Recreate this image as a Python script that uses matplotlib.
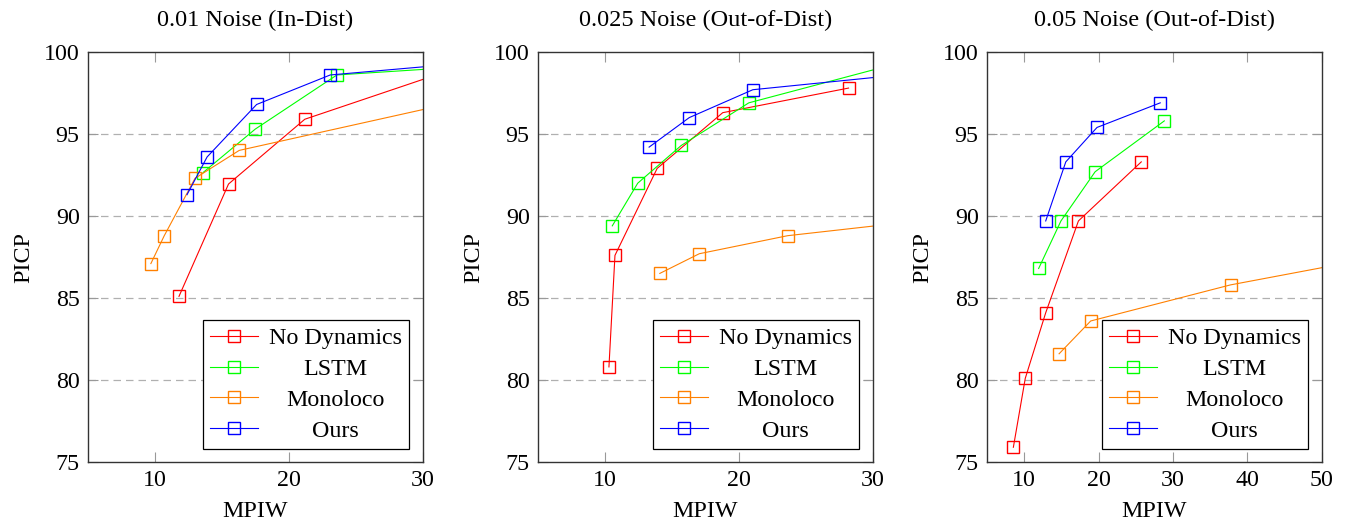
import numpy as np
import matplotlib
matplotlib.use("Agg")
import matplotlib.pyplot as plt

plt.rcParams['font.family'] = ['Liberation Serif', 'DejaVu Serif']

# Datos (MPIW, PICP) por panel y método
titulos = ["0.01 Noise (In-Dist)", "0.025 Noise (Out-of-Dist)", "0.05 Noise (Out-of-Dist)"]
metodos = ["No Dynamics", "LSTM", "Monoloco", "Ours"]
colores = ["#ff0000", "#00ff00", "#ff8000", "#0000ff"]

# Panel 1: 0.01 Noise
p1_nodyn_x = [11.8, 15.5, 21.2, 35.0]
p1_nodyn_y = [85.1, 91.95, 95.9, 99.7]
p1_lstm_x = [13.6, 17.5, 23.6, 35.0]
p1_lstm_y = [92.65, 95.3, 98.6, 99.2]
p1_mono_x = [9.7, 10.7, 13.0, 16.3, 40.0]
p1_mono_y = [87.1, 88.8, 92.3, 94.0, 98.3]
p1_ours_x = [12.4, 13.9, 17.6, 23.1, 35.0]
p1_ours_y = [91.3, 93.6, 96.8, 98.6, 99.45]

# Panel 2: 0.025 Noise
p2_nodyn_x = [10.3, 10.75, 13.9, 18.8, 28.2]
p2_nodyn_y = [80.8, 87.6, 92.9, 96.3, 97.8]
p2_lstm_x = [10.55, 12.45, 15.7, 20.75, 33.0]
p2_lstm_y = [89.4, 92.0, 94.3, 96.9, 99.55]
p2_mono_x = [14.1, 17.05, 23.65, 40.0]
p2_mono_y = [86.5, 87.7, 88.8, 90.3]
p2_ours_x = [13.3, 16.3, 21.05, 35.0]
p2_ours_y = [94.2, 96.0, 97.7, 98.85]

# Panel 3: 0.05 Noise
p3_nodyn_x = [8.55, 10.15, 12.9, 17.3, 25.75]
p3_nodyn_y = [75.9, 80.1, 84.1, 89.7, 93.3]
p3_lstm_x = [11.95, 14.95, 19.55, 28.85]
p3_lstm_y = [86.8, 89.7, 92.7, 95.8]
p3_mono_x = [14.7, 18.95, 37.75, 60.0]
p3_mono_y = [81.6, 83.6, 85.8, 87.7]
p3_ours_x = [12.9, 15.6, 19.8, 28.3]
p3_ours_y = [89.7, 93.3, 95.4, 96.9]

paneles = [
    [(p1_nodyn_x, p1_nodyn_y), (p1_lstm_x, p1_lstm_y), (p1_mono_x, p1_mono_y), (p1_ours_x, p1_ours_y)],
    [(p2_nodyn_x, p2_nodyn_y), (p2_lstm_x, p2_lstm_y), (p2_mono_x, p2_mono_y), (p2_ours_x, p2_ours_y)],
    [(p3_nodyn_x, p3_nodyn_y), (p3_lstm_x, p3_lstm_y), (p3_mono_x, p3_mono_y), (p3_ours_x, p3_ours_y)],
]
xlims = [(5, 30), (5, 30), (5, 50)]
xticks = [[10, 20, 30], [10, 20, 30], [10, 20, 30, 40, 50]]
yticks = [75, 80, 85, 90, 95, 100]

fig = plt.figure(figsize=(13.45, 5.21), dpi=100)
lefts = [0.0654, 0.400, 0.7338]
renderer = fig.canvas.get_renderer()

for i in range(3):
    ax = fig.add_axes([lefts[i], 0.1132, 0.2488, 0.787])
    for serie, nombre, c in zip(paneles[i], metodos, colores):
        ax.plot(serie[0], serie[1], color=c, lw=0.8, marker='s', ms=8,
                mfc='none', mec=c, mew=1.0, label=nombre)
    ax.set_xlim(*xlims[i])
    ax.set_ylim(75, 100)
    ax.set_xticks(xticks[i])
    ax.set_yticks(yticks)
    for yv in [80, 85, 90, 95]:
        ax.axhline(yv, color='#b0b0b0', ls=(0, (6, 4)), lw=0.9, zorder=0)
    ax.tick_params(direction='in', length=7, width=0.8, color='#999999',
                   top=True, right=True, labelsize=17.3, pad=6)
    for s in ax.spines.values():
        s.set_color('#333333')
        s.set_linewidth(1.0)
    ax.set_title(titulos[i], fontsize=17.5, pad=19)
    ax.set_xlabel("MPIW", fontsize=17.3, labelpad=7)
    ax.set_ylabel("PICP", fontsize=17.3, labelpad=7)
    leg = ax.legend(loc='lower right', fontsize=17.3, frameon=True, fancybox=False,
                    edgecolor='black', framealpha=1, handlelength=2.0,
                    borderpad=0.3, labelspacing=0.37, handletextpad=0.45,
                    borderaxespad=0.55)
    leg.get_frame().set_linewidth(0.9)
    # centrar el texto de la leyenda respecto al más ancho
    anchos = [t.get_window_extent(renderer).width for t in leg.get_texts()]
    ancho = max(anchos)
    for t, w in zip(leg.get_texts(), anchos):
        t.set_position(((ancho - w) / 2, 0))

fig.savefig("out.png", dpi=100)
